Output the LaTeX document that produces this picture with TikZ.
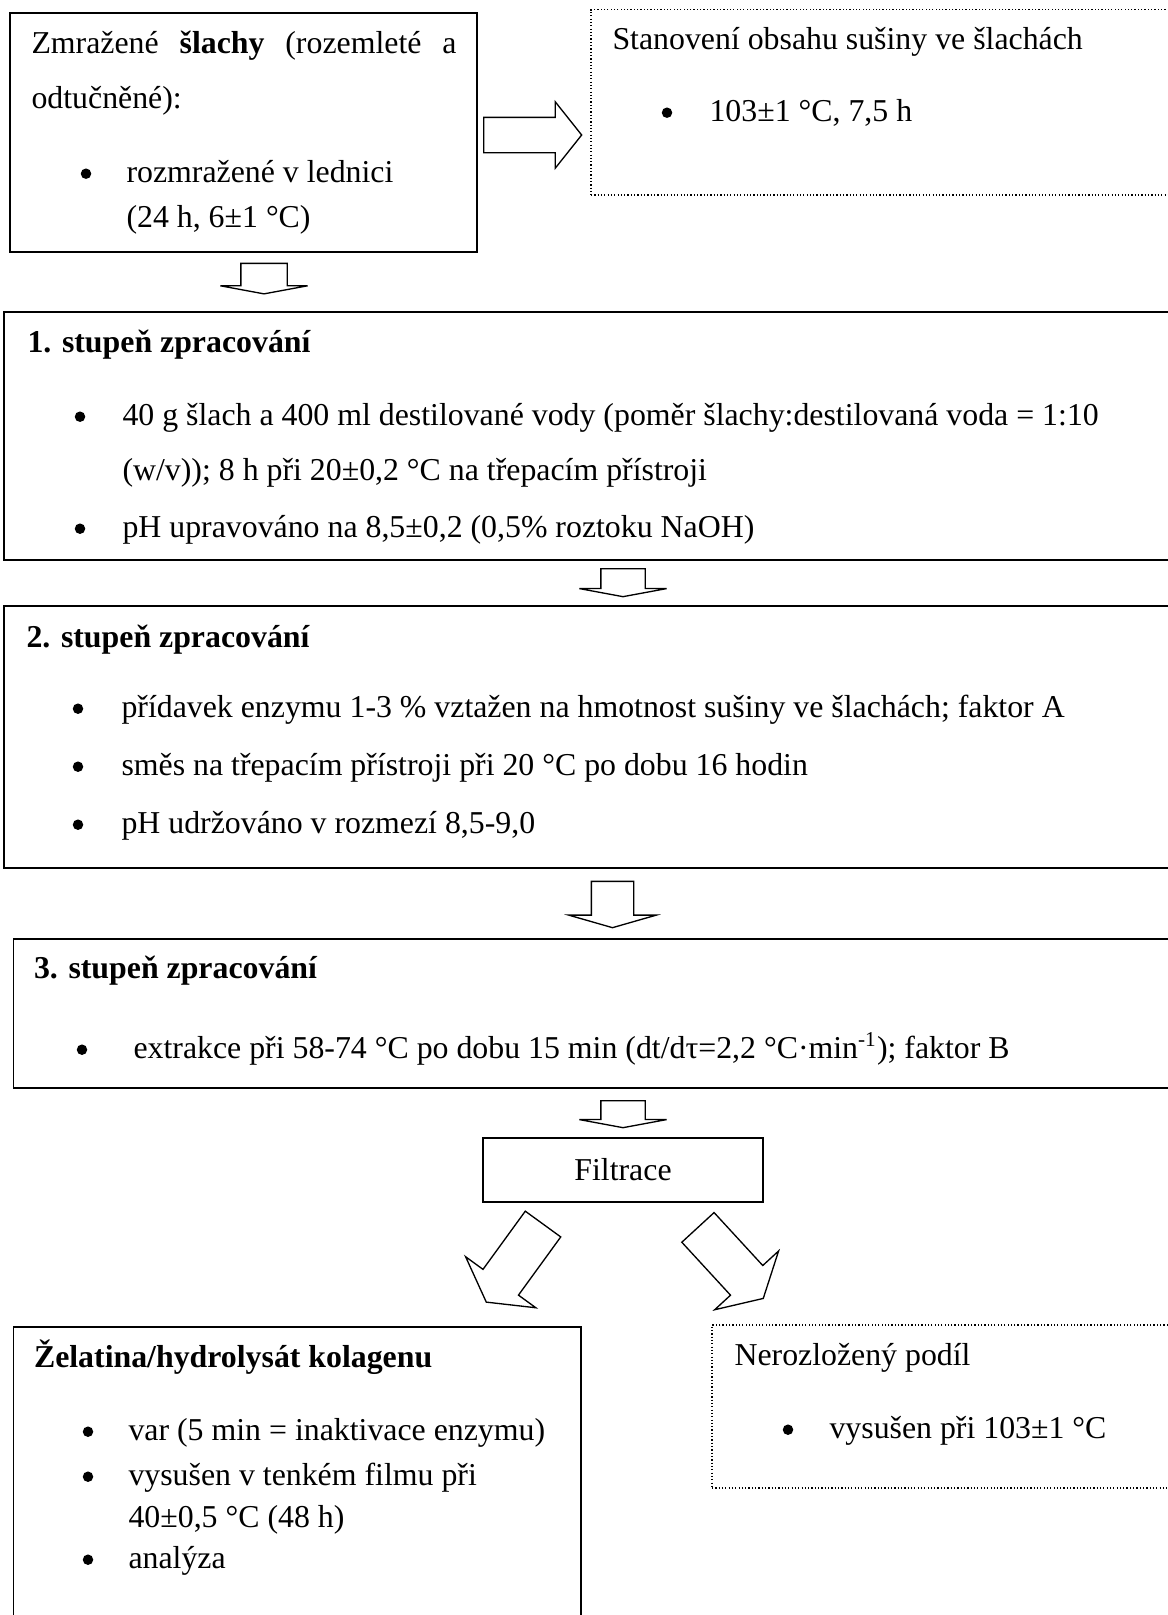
\documentclass[tikz,border=0pt]{standalone}
\usepackage{fontspec}
\setmainfont{Liberation Serif}
\usepackage{tikz}
\usetikzlibrary{positioning, shapes.arrows, fit, calc}
\newcommand{\pxl}{0.377pt}

\begin{document}
\begin{tikzpicture}[x=\pxl, y=-\pxl, font=\fontsize{12}{14}\selectfont,
				Box/.style={draw, line width=0.75pt, inner sep=0pt},
				DotBox/.style={draw, line width=0.45pt, dash pattern=on 0.45pt off 0.8pt, inner sep=0pt},
				Txt/.style={anchor=base west, inner sep=0pt},
				Head/.style={Txt, font=\fontsize{12}{14}\selectfont\bfseries},
				Dot/.style={circle, fill, inner sep=0pt, minimum size=10.5*\pxl},
				Arr/.style={single arrow, draw, line width=0.5pt, inner xsep=0pt, anchor=tail},
				DownArr/.style={Arr, rotate=-90, inner ysep=21.5*\pxl,
						single arrow head extend=21.5*\pxl, single arrow tip angle=159},
				DiagArr/.style={Arr, minimum height=96.5*\pxl, inner ysep=21.25*\pxl,
						single arrow head extend=21.5*\pxl, single arrow tip angle=121}]
				\path[use as bounding box] (0,0) rectangle (1168,1615);
				\clip (0,0) rectangle (1168,1615);

				% boxes
				\node[Box, fit={(10,13) (477,252)}] (zmraz) {};
				\node[DotBox, fit={(591,9.5) (1190,195)}] (susina) {};
				\node[Box, fit={(4,312) (1190,560)}] (st1) {};
				\node[Box, fit={(4,606) (1190,868)}] (st2) {};
				\node[Box, fit={(13.5,939) (1190,1088)}] (st3) {};
				\node[Box, line width=0.6pt, minimum width=280*\pxl, minimum height=64*\pxl] (filtr) at (623,1170) {Filtrace};
				\node[Box, fit={(13.5,1327) (581,1660)}] (zelat) {};
				\node[DotBox, fit={(712,1325) (1190,1488)}] (neroz) {};

				% block arrows
				\node[Arr, minimum height=98*\pxl, inner ysep=17*\pxl,
					single arrow head extend=15.5*\pxl, single arrow tip angle=103] (a0) at (483,135) {};
				\node[DownArr, minimum height=30.5*\pxl, inner ysep=22.5*\pxl, single arrow head extend=20.5*\pxl] (a1) at (264,262.7) {};
				\node[DownArr, minimum height=28*\pxl] (a2) at (623,568) {};
				\node[DownArr, minimum height=46.3*\pxl, inner ysep=20.5*\pxl, single arrow head extend=22.5*\pxl,
					single arrow tip angle=148] (a3) at (612.5,880.7) {};
				\node[DownArr, minimum height=27*\pxl] (a4) at (623,1100) {};
				\node[DiagArr, rotate=234] (a5) at (543.4,1223.5) {};
				\node[DiagArr, rotate=-47.4] (a6) at (697.5,1226.9) {};

				\foreach \x/\y [count=\i] in {86/182, 667/121, 80/425, 80/537, 78/717, 78/775, 78/833,
						82/1058, 88/1440, 88/1485, 88/1568, 788/1438}
					\node[Dot] (dot\i) at (\x,{\y-8.3}) {};

				\node[Txt] (z1) at (31,53) {\makebox[160.2pt][s]{Zmražené \textbf{šlachy} (rozemleté a}};
				\node[Txt] (z2) at (31,108) {odtučněné):};
				\node[Txt] (z3) at (126,182) {rozmražené v lednici};
				\node[Txt] (z4) at (126,227) {(24 h, 6±1 °C)};

				\node[Txt] (s1) at (612,49) {Stanovení obsahu sušiny ve šlachách};
				\node[Txt] (s2) at (709,121) {103±1 °C, 7,5 h};

				\node[Head] (p1) at (27,352) {1. stupeň zpracování};
				\node[Txt] (p2) at (122,425) {40 g šlach a 400 ml destilované vody (poměr šlachy:destilovaná voda = 1:10};
				\node[Txt] (p3) at (122,480) {(w/v)); 8 h při 20±0,2 °C na třepacím přístroji};
				\node[Txt] (p4) at (122,537) {pH upravováno na 8,5±0,2 (0,5\% roztoku NaOH)};

				\node[Head] (q1) at (26,647) {2. stupeň zpracování};
				\node[Txt] (q2) at (121,717) {přídavek enzymu 1-3 \% vztažen na hmotnost sušiny ve šlachách; faktor A};
				\node[Txt] (q3) at (121,775) {směs na třepacím přístroji při 20 °C po dobu 16 hodin};
				\node[Txt] (q4) at (121,833) {pH udržováno v rozmezí 8,5-9,0};

				\node[Head] (r1) at (33.5,978) {3. stupeň zpracování};
				\node[Txt] (r2) at (133,1058) {extrakce při 58-74 °C po dobu 15 min (dt/dτ=2,2 °C·min\textsuperscript{-1}); faktor B};

				\node[Head] (g1) at (33.5,1367) {Želatina/hydrolysát kolagenu};
				\node[Txt] (g2) at (128,1440) {var (5 min = inaktivace enzymu)};
				\node[Txt] (g3) at (128,1485) {vysušen v tenkém filmu při};
				\node[Txt] (g4) at (128,1527) {40±0,5 °C (48 h)};
				\node[Txt] (g5) at (128,1568) {analýza};

				\node[Txt] (n1) at (734,1365) {Nerozložený podíl};
				\node[Txt] (n2) at (829,1438) {vysušen při 103±1 °C};
\end{tikzpicture}
\end{document}
